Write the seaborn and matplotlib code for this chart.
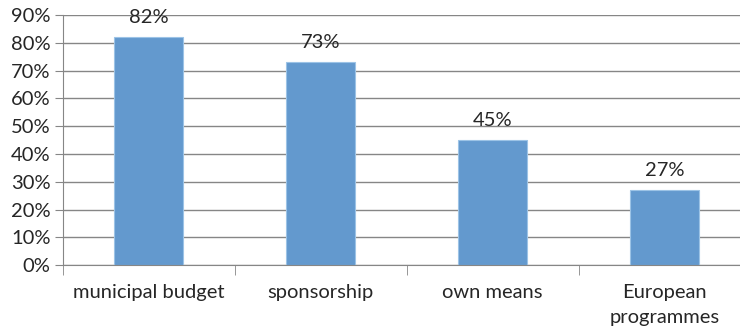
import matplotlib.pyplot as plt
import seaborn as sns
import pandas as pd
from matplotlib.ticker import FixedLocator, PercentFormatter

# Data
CATEGORIES = ["municipal budget", "sponsorship", "own means", "European\nprogrammes"]
VALUES = [82, 73, 45, 27]
Y_TICKS = [0, 10, 20, 30, 40, 50, 60, 70, 80, 90]

BAR_COLOR = "#6399CE"
GRID_COLOR = "#868686"
TEXT_COLOR = "#262626"
FS = 14.5

sns.set_style("white")
plt.rcParams['font.family'] = ['Lato', 'DejaVu Sans']

df = pd.DataFrame({"source": CATEGORIES, "share": VALUES})

fig = plt.figure(figsize=(7.4, 3.31), dpi=100)
ax = fig.add_axes([0.085, 0.199, 0.92, 0.756])

sns.barplot(data=df, x="source", y="share", color=BAR_COLOR, width=0.4,
            edgecolor="#9CC3E6", linewidth=0.8, saturation=1, ax=ax)

ax.set_ylim(0, 90)
ax.set_xlim(-0.5, 3.46)
ax.set_yticks(Y_TICKS)
ax.yaxis.set_major_formatter(PercentFormatter(decimals=0))
ax.yaxis.grid(True, color=GRID_COLOR, linewidth=1)
ax.set_axisbelow(True)

for s in ["top", "right"]:
    ax.spines[s].set_visible(False)
ax.spines["left"].set_color(GRID_COLOR)
ax.spines["bottom"].set_color(GRID_COLOR)

ax.set_xlabel("")
ax.set_ylabel("")

ax.tick_params(axis="y", length=6, color=GRID_COLOR, labelsize=FS, labelcolor=TEXT_COLOR, pad=3, left=True)
ax.tick_params(axis="x", which="major", length=0, labelsize=FS, labelcolor=TEXT_COLOR, pad=13.5)
ax.xaxis.set_minor_locator(FixedLocator([-0.5, 0.5, 1.5, 2.5]))
ax.tick_params(axis="x", which="minor", length=7, color=GRID_COLOR, bottom=True)
for lbl in ax.get_xticklabels():
    lbl.set_linespacing(1.55)

for i, v in enumerate(VALUES):
    ax.annotate(f"{v}%", (i, v), xytext=(0, 8), textcoords="offset points",
                ha="center", va="bottom", fontsize=FS, color=TEXT_COLOR)

fig.savefig("out.png", dpi=100)
